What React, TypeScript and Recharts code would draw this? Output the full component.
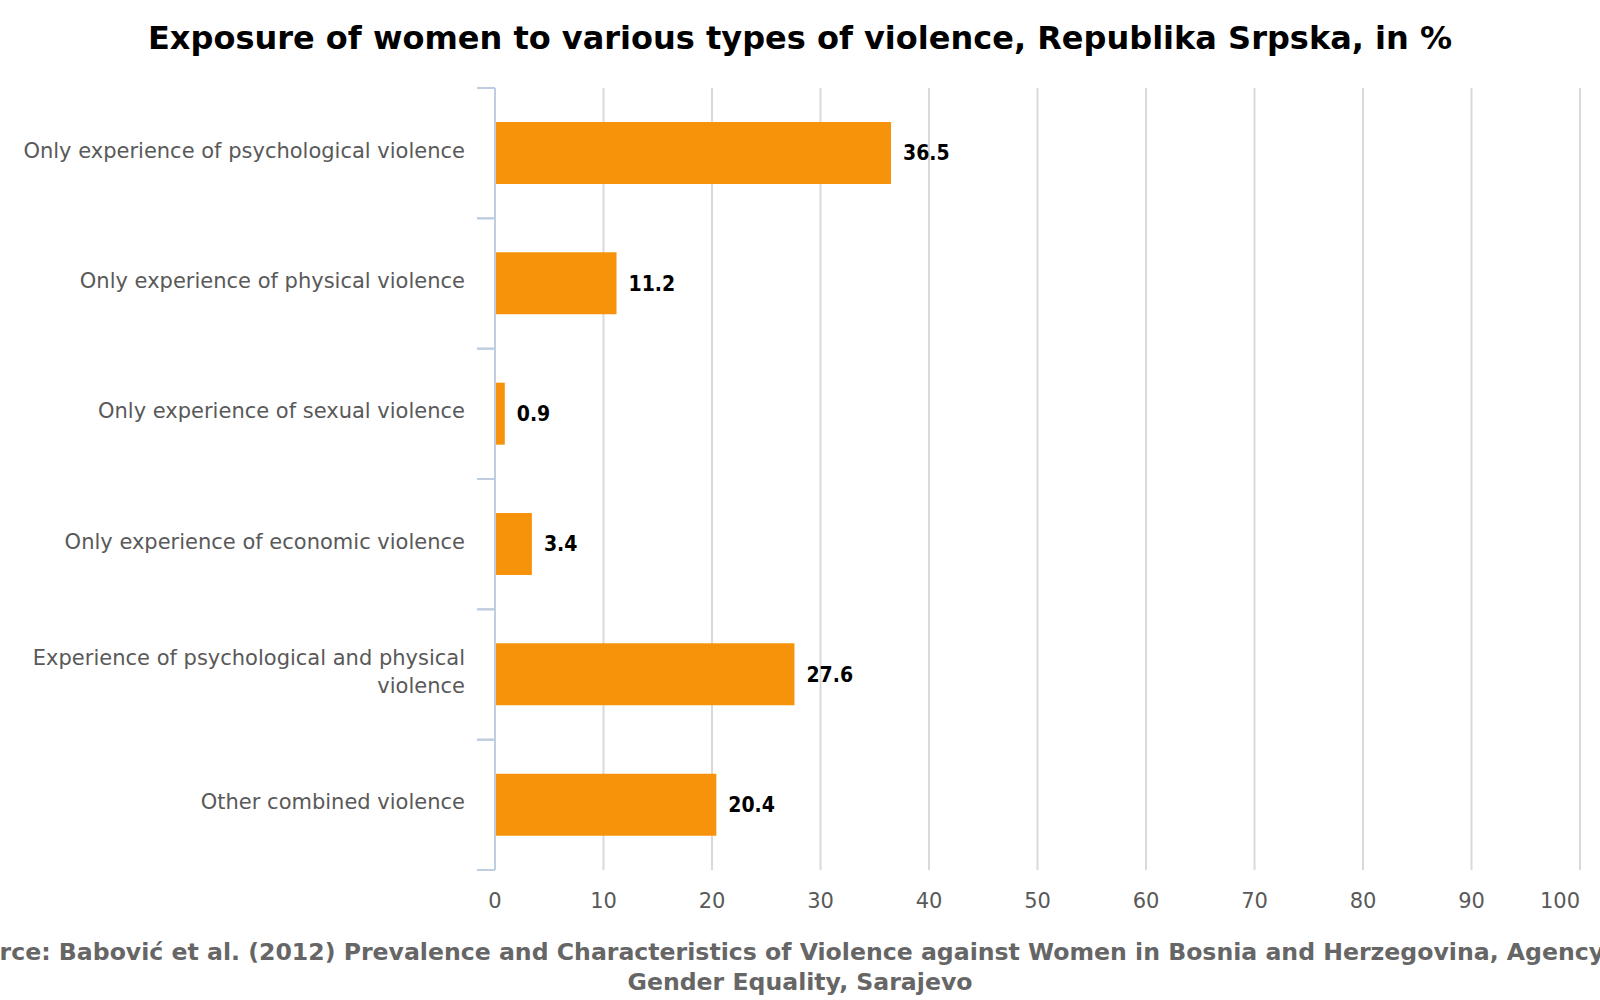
import React from 'react';
import { BarChart, Bar, XAxis, YAxis, CartesianGrid, LabelList } from 'recharts';

const categories = [
  'Only experience of psychological violence',
  'Only experience of physical violence',
  'Only experience of sexual violence',
  'Only experience of economic violence',
  'Experience of psychological and physical violence',
  'Other combined violence',
];
const values = [36.5, 11.2, 0.9, 3.4, 27.6, 20.4];
const xTicks = [0, 10, 20, 30, 40, 50, 60, 70, 80, 90, 100];
const titleText = 'Exposure of women to various types of violence, Republika Srpska, in %';
const sourceLines = [
  'Source: Babović et al. (2012) Prevalence and Characteristics of Violence against Women in Bosnia and Herzegovina, Agency for',
  'Gender Equality, Sarajevo',
];

const data = categories.map((name, i) => ({ name, value: values[i] }));

const W = 1600;
const H = 1000;
const PLOT_TOP = 88;
const PLOT_BOTTOM = 870;
const AXIS_X = 495;
const PLOT_RIGHT = 1580;
const BAND = (PLOT_BOTTOM - PLOT_TOP) / categories.length;
const AXIS_COLOR = '#bfcde0';
const LABEL_COLOR = '#595959';
const FONT = 'DejaVu Sans, Verdana, sans-serif';
const TICK_FONT_SIZE = 21;
const LABEL_MAX_W = 460;
const LINE_H = 28;

let ctx: CanvasRenderingContext2D | null = null;
function measure(s: string): number {
  if (typeof document === 'undefined') return s.length * TICK_FONT_SIZE * 0.55;
  if (!ctx) {
    const c = document.createElement('canvas');
    ctx = c.getContext('2d');
  }
  if (!ctx) return s.length * TICK_FONT_SIZE * 0.55;
  ctx.font = `${TICK_FONT_SIZE}px "DejaVu Sans"`;
  return ctx.measureText(s).width;
}

function wrap(s: string): string[] {
  const words = s.split(' ');
  const lines: string[] = [];
  let cur = '';
  for (const w of words) {
    const t = cur ? cur + ' ' + w : w;
    if (cur && measure(t) > LABEL_MAX_W) {
      lines.push(cur);
      cur = w;
    } else {
      cur = t;
    }
  }
  if (cur) lines.push(cur);
  return lines;
}

function CategoryTick(props: any) {
  const { y, payload } = props;
  const lines = wrap(String(payload.value));
  const startY = y - 3 - ((lines.length - 1) * LINE_H) / 2;
  return (
    <g>
      <line x1={AXIS_X - 18} x2={AXIS_X} y1={y - BAND / 2} y2={y - BAND / 2} stroke={AXIS_COLOR} strokeWidth={2} />
      <line x1={AXIS_X - 18} x2={AXIS_X} y1={y + BAND / 2} y2={y + BAND / 2} stroke={AXIS_COLOR} strokeWidth={2} />
      <text
        textAnchor="end"
        fontSize={TICK_FONT_SIZE}
        fontFamily={FONT}
        fill={LABEL_COLOR}
      >
        {lines.map((ln, i) => (
          <tspan key={i} x={AXIS_X - 30} y={startY + i * LINE_H} dy="0.355em">
            {ln}
          </tspan>
        ))}
      </text>
    </g>
  );
}

function ValueTick(props: any) {
  const { x, y, payload, index } = props;
  const last = index === xTicks.length - 1;
  return (
    <text
      x={x}
      y={y + 30}
      textAnchor={last ? 'end' : 'middle'}
      fontSize={21}
      fontFamily={FONT}
      fill={LABEL_COLOR}
    >
      {payload.value}
    </text>
  );
}

export default function App() {
  return (
    <div style={{ position: 'absolute', left: 0, top: 0, width: W, height: H, background: '#fff' }}>
      <BarChart
        width={W}
        height={H}
        data={data}
        layout="vertical"
        margin={{ top: PLOT_TOP, right: W - PLOT_RIGHT, left: 0, bottom: H - PLOT_BOTTOM - 30 }}
      >
        <CartesianGrid horizontal={false} stroke="#d9d9d9" strokeWidth={2} />
        <XAxis
          type="number"
          domain={[0, 100]}
          ticks={xTicks}
          interval={0}
          axisLine={false}
          tickLine={false}
          height={30}
          tick={<ValueTick />}
        />
        <YAxis
          type="category"
          dataKey="name"
          width={AXIS_X}
          interval={0}
          axisLine={{ stroke: AXIS_COLOR, strokeWidth: 2 }}
          tickLine={false}
          tick={<CategoryTick />}
        />
        <Bar dataKey="value" fill="#f7930a" barSize={62} isAnimationActive={false}>
          <LabelList
            dataKey="value"
            position="right"
            offset={12}
            fill="#000"
            fontSize={21}
            fontWeight="bold"
            fontFamily="DejaVu Sans Condensed, DejaVu Sans, sans-serif"
          />
        </Bar>
      </BarChart>
      <svg width={W} height={H} style={{ position: 'absolute', left: 0, top: 0, pointerEvents: 'none' }}>
        <text x={800} y={49} textAnchor="middle" fontSize={32} fontWeight="bold" fontFamily={FONT} fill="#000">
          {titleText}
        </text>
        {sourceLines.map((line, i) => (
          <text
            key={i}
            x={800}
            y={960 + i * 30}
            textAnchor="middle"
            fontSize={23.6}
            fontWeight="bold"
            fontFamily={FONT}
            fill="#666"
          >
            {line}
          </text>
        ))}
      </svg>
    </div>
  );
}
